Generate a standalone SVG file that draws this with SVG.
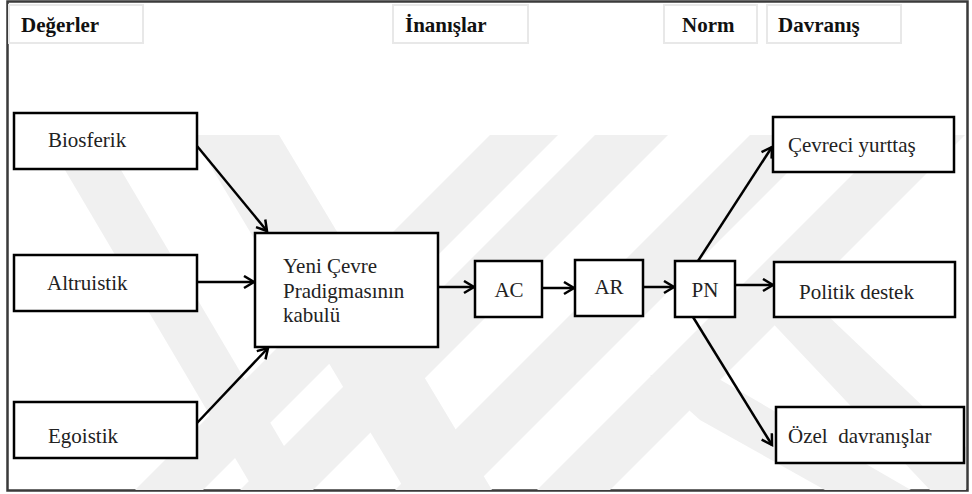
<svg xmlns="http://www.w3.org/2000/svg" width="972" height="494" viewBox="0 0 972 494">
<defs>
<style>
.wm{fill:#f0f0f0;stroke:none}
.frame{fill:#fff;stroke:#3a3a3a;stroke-width:2.5}
.hbox{fill:#fff;stroke:#e8e8e8;stroke-width:2}
.htxt{font-size:21px;font-weight:bold;fill:#111}
.box{fill:#fff;stroke:#000;stroke-width:2.5}
.txt{font-size:21px;fill:#222}
.edge{fill:none;stroke:#000;stroke-width:2.5;marker-end:url(#arr)}
</style>
<marker id="arr" markerUnits="userSpaceOnUse" markerWidth="16" markerHeight="16" refX="12" refY="7" orient="auto">
<path d="M2,1 L12,7 L2,13" fill="none" stroke="#000" stroke-width="2.5"/>
</marker>
<clipPath id="clip"><rect x="9" y="135" width="957" height="355"/></clipPath>
</defs>
<rect x="7.5" y="1.5" width="960" height="489" class="frame"/>
<g id="watermark" clip-path="url(#clip)">
<polygon class="wm" points="192,135 279,135 492,490 405,490"/>
<polygon class="wm" points="62,165 118,165 310,490 254,490"/>
<polygon class="wm" points="490,135 558,135 203,490 135,490"/>
<polygon class="wm" points="595,135 668,135 313,490 240,490"/>
<polygon class="wm" points="750,135 825,135 470,490 395,490"/>
<polygon class="wm" points="892,135 965,135 610,490 537,490"/>
<polygon class="wm" points="650,375 712,375 911,490 825,490 700,420"/>
<polygon class="wm" points="763,313 825,313 972,453 972,490 930,490"/>
</g>
<g font-family="'Liberation Serif', Tinos, 'Times New Roman', 'DejaVu Serif', serif">
<g id="h-degerler"><rect class="hbox" x="9" y="5" width="134" height="38"/><text class="htxt" x="21" y="32">Değerler</text></g>
<g id="h-inanislar"><rect class="hbox" x="393" y="5" width="135" height="38"/><text class="htxt" x="405" y="32">İnanışlar</text></g>
<g id="h-norm"><rect class="hbox" x="664" y="5" width="93" height="38"/><text class="htxt" x="682" y="32">Norm</text></g>
<g id="h-davranis"><rect class="hbox" x="767" y="5" width="134" height="38"/><text class="htxt" x="778" y="32">Davranış</text></g>
<g id="connectors">
<line class="edge" x1="197" y1="146" x2="267" y2="231"/>
<line class="edge" x1="197" y1="282" x2="254" y2="282"/>
<line class="edge" x1="197" y1="423" x2="268" y2="348"/>
<line class="edge" x1="438" y1="287" x2="474" y2="287"/>
<line class="edge" x1="542" y1="288" x2="574" y2="288"/>
<line class="edge" x1="643" y1="287" x2="674" y2="287"/>
<line class="edge" x1="698" y1="261" x2="772" y2="147"/>
<line class="edge" x1="735" y1="285" x2="773" y2="285"/>
<line class="edge" x1="693" y1="317" x2="772" y2="445"/>
</g>
<g id="n-biosferik"><rect class="box" x="14" y="113" width="183" height="56"/><text class="txt" x="48" y="147">Biosferik</text></g>
<g id="n-altruistik"><rect class="box" x="14" y="255" width="183" height="56"/><text class="txt" x="47" y="290">Altruistik</text></g>
<g id="n-egoistik"><rect class="box" x="14" y="402" width="183" height="56"/><text class="txt" x="48" y="443">Egoistik</text></g>
<g id="n-yeni"><rect class="box" x="255" y="233" width="183" height="114"/><text class="txt" x="283" y="273">Yeni Çevre</text><text class="txt" x="283" y="298">Pradigmasının</text><text class="txt" x="283" y="322">kabulü</text></g>
<g id="n-ac"><rect class="box" x="475" y="261" width="67" height="56"/><text class="txt" x="509" y="297" text-anchor="middle">AC</text></g>
<g id="n-ar"><rect class="box" x="575" y="260" width="68" height="56"/><text class="txt" x="609" y="294" text-anchor="middle">AR</text></g>
<g id="n-pn"><rect class="box" x="675" y="261" width="60" height="56"/><text class="txt" x="705" y="297" text-anchor="middle">PN</text></g>
<g id="n-cevreci"><rect class="box" x="773" y="117" width="181" height="55"/><text class="txt" x="788" y="152">Çevreci yurttaş</text></g>
<g id="n-politik"><rect class="box" x="774" y="262" width="181" height="55"/><text class="txt" x="799" y="299">Politik destek</text></g>
<g id="n-ozel"><rect class="box" x="776" y="407" width="188" height="56"/><text class="txt" x="788" y="443" xml:space="preserve">Özel  davranışlar</text></g>
</g>
</svg>
